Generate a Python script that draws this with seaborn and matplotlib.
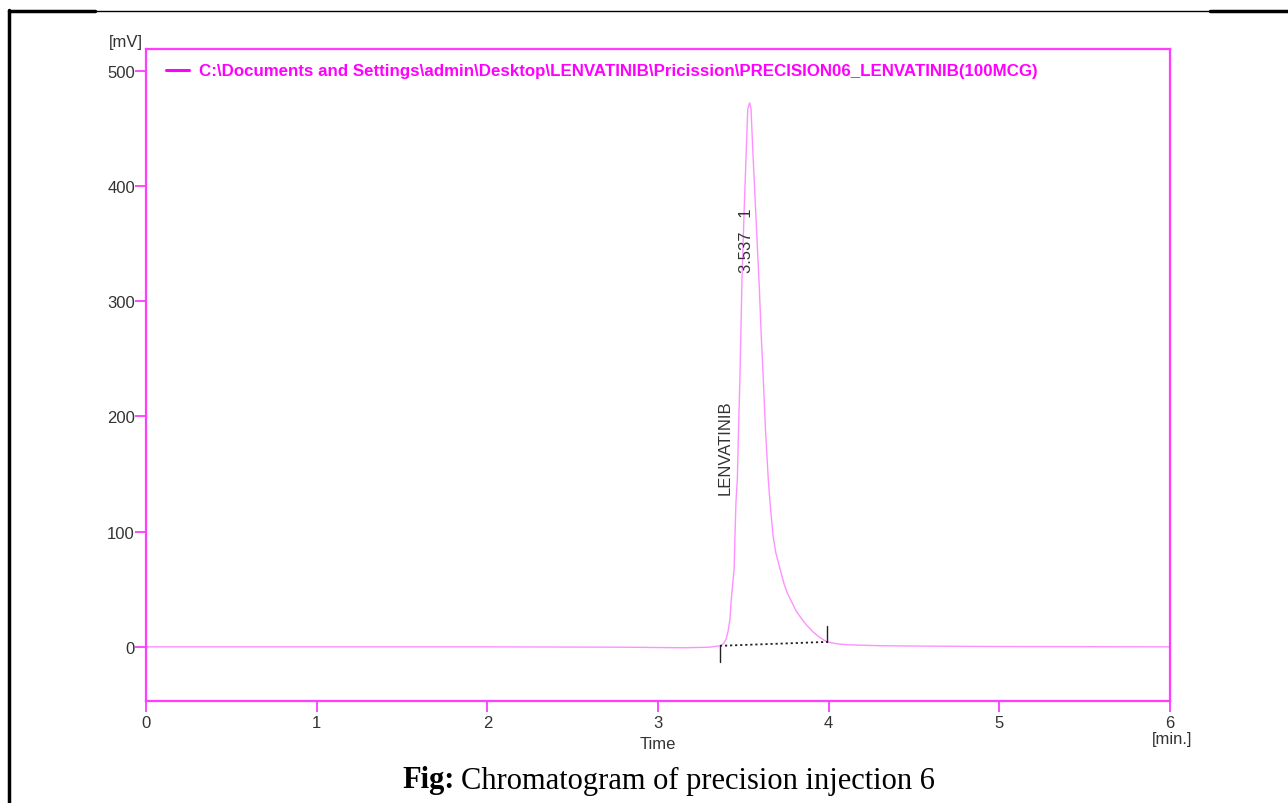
import matplotlib
matplotlib.use("Agg")
import matplotlib.pyplot as plt
from matplotlib.lines import Line2D
import numpy as np
import pandas as pd
import seaborn as sns

# Detector trace (time in min, signal in mV)
time_min = [0.0, 1.0, 2.0, 2.8, 3.15, 3.30, 3.363, 3.385, 3.399, 3.410, 3.422,
            3.428, 3.446, 3.451, 3.457, 3.465, 3.472, 3.480, 3.486, 3.492,
            3.504, 3.516, 3.526, 3.537, 3.545, 3.557, 3.575, 3.594, 3.605,
            3.617, 3.630, 3.646, 3.656, 3.674, 3.690, 3.715, 3.740, 3.760,
            3.783, 3.810, 3.842, 3.870, 3.908, 3.950, 3.990, 4.050, 4.125,
            4.30, 4.60, 5.0, 6.0]
signal_mv = [0.0, 0.0, 0.0, -0.3, -0.8, -0.3, 0.9, 3.0, 6.9, 13.0, 24.3,
             39.1, 67.7, 96.4, 125.9, 145.8, 190.0, 232.6, 275.0, 319.4,
             375.0, 426.2, 467.0, 472.2, 467.0, 426.2, 370.0, 310.8, 270.0,
             232.6, 188.0, 145.8, 125.9, 96.4, 82.0, 67.7, 54.0, 46.0,
             39.1, 31.0, 24.3, 19.0, 13.0, 8.0, 4.3, 2.6, 1.7,
             1.0, 0.6, 0.3, 0.0]

# Integration baseline of the peak (start, end)
base_t = [3.363, 3.990]
base_v = [0.9, 4.3]

peak_name = "LENVATINIB"
peak_rt = "3.537"
peak_no = "1"
trace_label = r"C:\Documents and Settings\admin\Desktop\LENVATINIB\Pricission\PRECISION06_LENVATINIB(100MCG)"

x_ticks = [0, 1, 2, 3, 4, 5, 6]
y_ticks = [0, 100, 200, 300, 400, 500]

sns.set_style("white")
plt.rcParams["font.family"] = ["Liberation Sans", "DejaVu Sans"]

MAG = "#ff3cff"
TRACE = "#ff90ff"
TXT = "#333333"
FS = 12
W, H = 1288, 804

fig = plt.figure(figsize=(12.88, 8.04), dpi=100)
ax = fig.add_axes([146 / W, 102 / H, 1024 / W, 652 / H])

df = pd.DataFrame({"t": time_min, "mv": signal_mv})
sns.lineplot(data=df, x="t", y="mv", ax=ax, color=TRACE, lw=1.0,
             estimator=None, sort=False, legend=False)

# baseline drawn under the peak, with start/end marks
ax.plot(base_t, base_v, color="#222222", lw=1.3, ls=(0, (1.2, 1.6)))
ax.plot([base_t[0], base_t[0]], [base_v[0], base_v[0] - 14], color="#222222", lw=1.0)
ax.plot([base_t[1], base_t[1]], [base_v[1], base_v[1] + 14], color="#222222", lw=1.0)

ax.set_xlim(0, 6)
ax.set_ylim(-47, 519)
ax.set_xticks(x_ticks)
ax.set_yticks(y_ticks)
ax.set_xticklabels([str(v) for v in x_ticks])
ax.set_yticklabels([str(v) for v in y_ticks])
ax.tick_params(axis="both", direction="out", length=8, width=1.3, color=MAG,
               labelcolor=TXT, labelsize=FS, left=True, bottom=True)
ax.tick_params(axis="x", pad=2)
ax.tick_params(axis="y", pad=0)
for s in ax.spines.values():
    s.set_visible(True)
    s.set_color(MAG)
    s.set_linewidth(1.6)
ax.set_xlabel("")
ax.set_ylabel("")
ax.grid(False)

# peak labels
ax.text(3.516, 325, f"{peak_rt}   {peak_no}", rotation=90, ha="center", va="bottom",
        fontsize=FS, color=TXT)
ax.text(3.393, 133, peak_name, rotation=90, ha="center", va="bottom",
        fontsize=FS, color=TXT)

# axis captions
fig.text(126 / W, (H - 43) / H, "[mV]", ha="center", va="center", fontsize=FS, color=TXT)
fig.text(658 / W, (H - 745) / H, "Time", ha="center", va="center", fontsize=FS, color=TXT)
fig.text(1172 / W, (H - 740) / H, "[min.]", ha="center", va="center", fontsize=FS, color=TXT)

leg = ax.legend(handles=[Line2D([], [], color="#ff00ff", lw=2.2)], labels=[trace_label],
                loc="upper left", bbox_to_anchor=(0, 1.009), borderaxespad=0,
                borderpad=1.2, handlelength=1.35, handletextpad=0.55, frameon=False,
                prop={"weight": "bold", "size": 12.2})
for t in leg.get_texts():
    t.set_color("#ff00ff")

# figure caption: bold "Fig:" followed by the description, centred as a group
serif = ["Liberation Serif", "DejaVu Serif"]
cap_y = (H - 781) / H
t1 = fig.text(0, cap_y, "Fig:", fontsize=22, fontweight="bold", family=serif,
              ha="left", va="center", color="black")
t2 = fig.text(0, cap_y, "Chromatogram of precision injection 6", fontsize=22,
              family=serif, ha="left", va="center", color="black")
fig.canvas.draw()
r = fig.canvas.get_renderer()
w1 = t1.get_window_extent(r).width
w2 = t2.get_window_extent(r).width
gap = 6
x0 = 669 - (w1 + gap + w2) / 2
t1.set_x(x0 / W)
t2.set_x((x0 + w1 + gap) / W)

# page frame
fig.add_artist(Line2D([9 / W, 9 / W], [0, 1 - 11 / H], color="black", lw=2.5,
                      transform=fig.transFigure))
fig.add_artist(Line2D([9 / W, 1], [1 - 12 / H, 1 - 12 / H], color="black", lw=1.0,
                      transform=fig.transFigure))
fig.add_artist(Line2D([9 / W, 95 / W], [1 - 12 / H, 1 - 12 / H], color="black", lw=2.5,
                      transform=fig.transFigure))
fig.add_artist(Line2D([1210 / W, 1], [1 - 12 / H, 1 - 12 / H], color="black", lw=2.5,
                      transform=fig.transFigure))

fig.savefig("out.png", dpi=100)
